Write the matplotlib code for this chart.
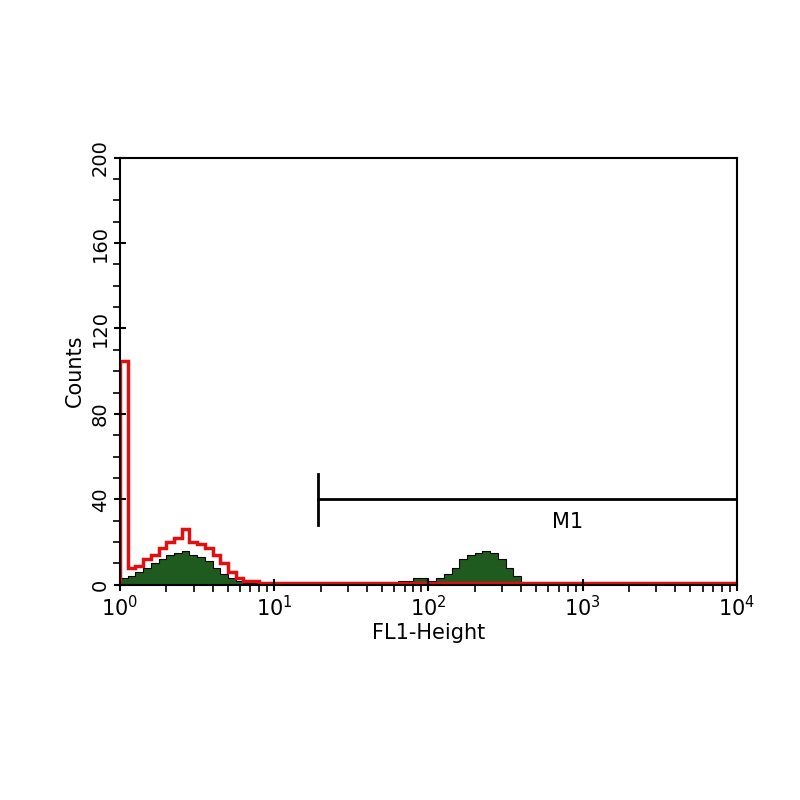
import numpy as np
import matplotlib
matplotlib.use("Agg")
import matplotlib.pyplot as plt

bin_width_log = 0.05
red_counts = [105, 8, 9, 12, 14, 17, 20, 22, 26, 20, 19, 17, 14, 10, 6, 3, 2, 2, 1, 1,
              1, 1, 1, 1, 1, 1, 1, 1, 1, 1, 1, 1, 1, 1, 1, 1, 1, 1, 1, 1,
              1, 1, 1, 1, 1, 1, 1, 1, 1, 1, 1, 1, 1, 1, 1, 1, 1, 1, 1, 1,
              1, 1, 1, 1, 1, 1, 1, 1, 1, 1, 1, 1, 1, 1, 1, 1, 1, 1, 1, 1]
green_counts = [3, 4, 6, 8, 10, 12, 14, 15, 16, 14, 13, 11, 8, 5, 3, 2, 1, 1, 1, 1,
                1, 1, 1, 1, 1, 1, 1, 1, 1, 1, 1, 1, 1, 1, 1, 1, 2, 2, 3, 3,
                2, 3, 5, 8, 12, 14, 15, 16, 15, 12, 8, 4, 1, 0, 0, 0, 0, 0, 0, 0,
                0, 0, 0, 0, 0, 0, 0, 0, 0, 0, 0, 0, 0, 0, 0, 0, 0, 0, 0, 0]
y_ticks = [0, 40, 80, 120, 160, 200]
x_tick_labels = ["$10^0$", "$10^1$", "$10^2$", "$10^3$", "$10^4$"]
marker_start, marker_end, marker_level = 19.2, 1e4, 40

edges = 10 ** (np.arange(len(red_counts) + 1) * bin_width_log)

fig = plt.figure(figsize=(8, 8), dpi=100)
ax = fig.add_axes([0.15, 0.269, 0.771, 0.534])
ax.stairs(green_counts, edges, fill=True, color="#1f5a1f")
ax.stairs(green_counts, edges, color="black", linewidth=0.8)
ax.stairs(red_counts, edges, color="#e01010", linewidth=2.5)

ax.set_xscale("log")
ax.set_xlim(1, 1e4)
ax.set_ylim(0, 200)
ax.set_xticks([1, 10, 100, 1000, 10000])
ax.set_xticklabels(x_tick_labels, fontsize=15)
ax.set_yticks(y_ticks)
ax.set_yticklabels([str(v) for v in y_ticks], rotation=90, va="center", fontsize=14)
ax.set_yticks(np.arange(0, 201, 10), minor=True)
ax.tick_params(axis="both", which="major", length=8, width=1.5, direction="inout")
ax.tick_params(axis="both", which="minor", length=5, width=1.2, direction="out")
for s in ax.spines.values():
    s.set_linewidth(1.5)
ax.set_xlabel("FL1-Height", fontsize=15, labelpad=2)
ax.set_ylabel("Counts", fontsize=15)

ax.plot([marker_start, marker_end], [marker_level, marker_level], color="black", lw=2)
ax.plot([marker_start, marker_start], [marker_level - 12, marker_level + 12], color="black", lw=2)
ax.text(10 ** 2.9, marker_level - 6, "M1", fontsize=15, ha="center", va="top")

fig.savefig("out.png", dpi=100)
